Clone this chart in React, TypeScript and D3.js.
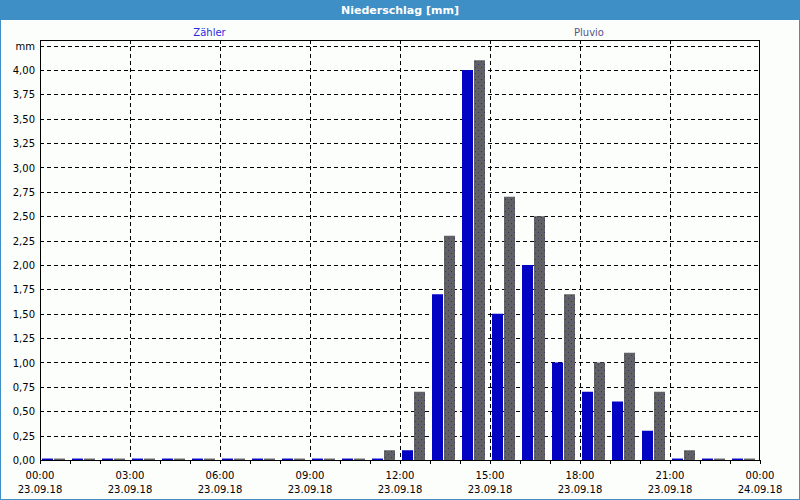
import React from "react";
import * as d3 from "d3";

const hours: number[] = d3.range(24);
const zaehler: number[] = [0.015, 0.015, 0.015, 0.015, 0.015, 0.015, 0.015, 0.015, 0.015, 0.015, 0.015, 0.015, 0.1, 1.7, 4.0, 1.5, 2.0, 1.0, 0.7, 0.6, 0.3, 0.015, 0.015, 0.015];
const pluvio: number[] = [0.015, 0.015, 0.015, 0.015, 0.015, 0.015, 0.015, 0.015, 0.015, 0.015, 0.015, 0.1, 0.7, 2.3, 4.1, 2.7, 2.5, 1.7, 1.0, 1.1, 0.7, 0.1, 0.015, 0.015];
const seriesNames: string[] = ["Zähler", "Pluvio"];
const yTicks: number[] = d3.range(0, 4.26, 0.25);
const title = "Niederschlag [mm]";
const unitLabel = "mm";

const W = 800;
const H = 500;
const L = 40, R = 760, T = 40, B = 460;
const FONT = "'DejaVu Sans', Verdana, sans-serif";

export default function App() {
  const start = new Date(2018, 8, 23, 0, 0);
  const end = new Date(2018, 8, 24, 0, 0);
  const x = d3.scaleTime().domain([start, end]).range([L, R]);
  const band = d3.scaleBand<number>().domain(hours).range([L, R]).paddingInner(0).paddingOuter(0);
  const inner = d3.scaleBand<string>().domain(seriesNames).range([2, 25]).paddingInner(1 / 12).paddingOuter(0);
  const y = d3.scaleLinear().domain([0, 420 / 97.5]).range([B, T]);

  const majorTicks = x.ticks(d3.timeHour.every(3)!);
  const minorTicks = x.ticks(d3.timeHour.every(1)!);
  const fmtTime = d3.timeFormat("%H:%M");
  const fmtDate = d3.timeFormat("%d.%m.%y");
  const fmtY = (v: number) => d3.format(".2f")(v).replace(".", ",");
  const dash = "4,3";

  return (
    <svg width={W} height={H} style={{ position: "fixed", left: 0, top: 0, display: "block" }} fontFamily={FONT}>
      <defs>
        <pattern id="dots" width="6" height="6" patternUnits="userSpaceOnUse">
          <rect width="6" height="6" fill="#616165" />
          <rect x="1" y="1" width="1" height="1" fill="#34346e" />
          <rect x="4" y="4" width="1" height="1" fill="#34346e" />
        </pattern>
      </defs>
      <rect x={0} y={0} width={W} height={H} fill="#fcfefc" />
      <rect x={0} y={0} width={W} height={20} fill="#3d8fc5" />
      <rect x={0.5} y={0.5} width={W - 1} height={H - 1} fill="none" stroke="#3d8fc5" />
      <text x={W / 2} y={14} textAnchor="middle" fill="#ffffff" fontWeight="bold" fontSize={11}>{title}</text>

      <text x={209.5} y={36} textAnchor="middle" fill="#2a2ae0" fontSize={10}>{seriesNames[0]}</text>
      <text x={589} y={36} textAnchor="middle" fill="#55558a" fontSize={10}>{seriesNames[1]}</text>

      {/* horizontal grid */}
      {yTicks.filter(v => v > 0).map(v => (
        <line key={"h" + v} x1={L} x2={R} y1={Math.round(y(v)) + 0.5} y2={Math.round(y(v)) + 0.5} stroke="#000" strokeDasharray={dash} />
      ))}
      {/* vertical grid */}
      {majorTicks.slice(1, -1).map((t, i) => (
        <line key={"v" + i} x1={Math.round(x(t)) + 0.5} x2={Math.round(x(t)) + 0.5} y1={T} y2={B} stroke="#000" strokeDasharray={dash} />
      ))}

      {/* bars */}
      {hours.map(h => (
        <g key={"b" + h}>
          <rect x={(band(h) as number) + (inner(seriesNames[0]) as number)} width={inner.bandwidth()} y={y(zaehler[h])} height={B - y(zaehler[h])} fill="#0303c3" />
          <rect x={(band(h) as number) + (inner(seriesNames[1]) as number)} width={inner.bandwidth()} y={y(pluvio[h])} height={B - y(pluvio[h])} fill="url(#dots)" />
        </g>
      ))}

      {/* plot frame */}
      <rect x={L + 0.5} y={T + 0.5} width={R - L - 1} height={B - T} fill="none" stroke="#000" />

      {/* minor ticks */}
      {minorTicks.map((t, i) => (
        <line key={"m" + i} x1={Math.round(x(t)) + 0.5} x2={Math.round(x(t)) + 0.5} y1={B} y2={B + 4} stroke="#000" />
      ))}

      {/* y labels */}
      {yTicks.map(v => (
        <text key={"yl" + v} x={35} y={y(v) + 4} textAnchor="end" fontSize={10} fill="#000">
          {v > 4.2 ? unitLabel : fmtY(v)}
        </text>
      ))}

      {/* x labels */}
      {majorTicks.map((t, i) => (
        <g key={"xl" + i}>
          <text x={x(t)} y={479} textAnchor="middle" fontSize={10} fill="#000">{fmtTime(t)}</text>
          <text x={x(t)} y={493} textAnchor="middle" fontSize={10} fill="#000">{fmtDate(t)}</text>
        </g>
      ))}
    </svg>
  );
}
